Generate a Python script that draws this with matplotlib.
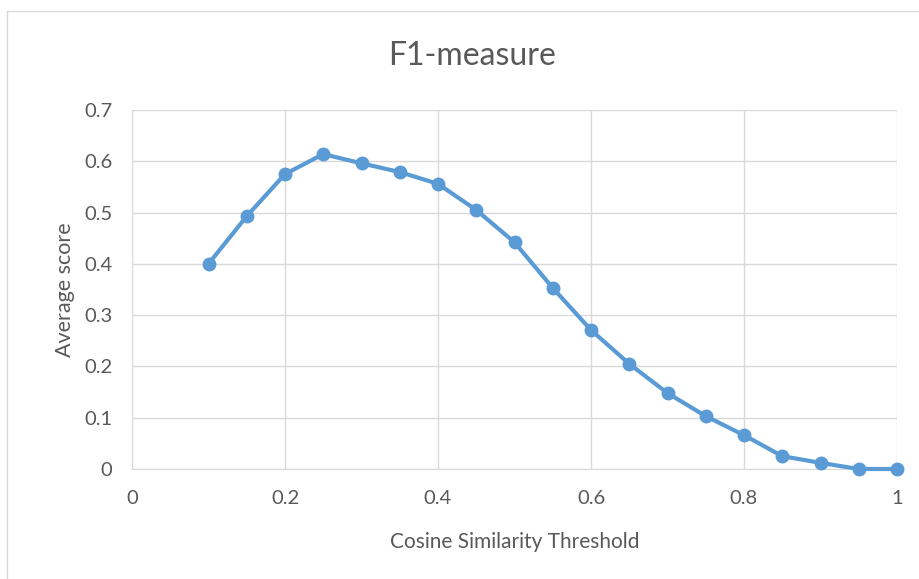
import matplotlib
matplotlib.use("Agg")
import matplotlib.pyplot as plt
from matplotlib.patches import Rectangle

thresholds = [0.1, 0.15, 0.2, 0.25, 0.3, 0.35, 0.4, 0.45, 0.5, 0.55,
              0.6, 0.65, 0.7, 0.75, 0.8, 0.85, 0.9, 0.95, 1.0]
f1_scores = [0.400, 0.493, 0.575, 0.614, 0.596, 0.579, 0.556, 0.505, 0.442, 0.353,
             0.271, 0.205, 0.148, 0.103, 0.066, 0.025, 0.012, 0.0, 0.0]
x_ticks = [0, 0.2, 0.4, 0.6, 0.8, 1]
x_tick_labels = ["0", "0.2", "0.4", "0.6", "0.8", "1"]
y_ticks = [0, 0.1, 0.2, 0.3, 0.4, 0.5, 0.6, 0.7]

plt.rcParams["font.family"] = ["Lato", "DejaVu Sans"]
text_color = "#595959"
grid_color = "#d9d9d9"
line_color = "#5b9bd5"

W, H = 919, 579
fig = plt.figure(figsize=(W / 100, H / 100), dpi=100)

# outer chart frame
fig.patches.append(Rectangle((7 / W, -0.01), 1.0, 1 - 11 / H + 0.01,
                             transform=fig.transFigure, fill=False,
                             edgecolor="#d9d9d9", linewidth=1))

ax = fig.add_axes([132 / W, 1 - 469 / H, (897 - 132) / W, (469 - 110) / H])
ax.plot(thresholds, f1_scores, color=line_color, linewidth=3,
        marker="o", markersize=9, clip_on=False, zorder=3)

ax.set_xlim(0, 1)
ax.set_ylim(0, 0.7)
ax.set_xticks(x_ticks)
ax.set_xticklabels(x_tick_labels)
ax.set_yticks(y_ticks)
ax.set_yticklabels([f"{v:g}" for v in y_ticks])
ax.grid(True, color=grid_color, linewidth=1)
ax.set_axisbelow(True)
for side in ["top", "right", "left"]:
    ax.spines[side].set_visible(False)
ax.spines["bottom"].set_color(grid_color)
ax.tick_params(length=0, labelsize=14.5, colors=text_color, pad=15)
ax.tick_params(axis="y", pad=14)

ax.set_xlabel("Cosine Similarity Threshold", fontsize=15, color=text_color, labelpad=18)
ax.set_ylabel("Average score", fontsize=15.5, color=text_color, labelpad=7)
fig.text(472 / W, 1 - 56 / H, "F1-measure", ha="center", va="center",
         fontsize=23, color=text_color)

fig.savefig("out.png", dpi=100)
